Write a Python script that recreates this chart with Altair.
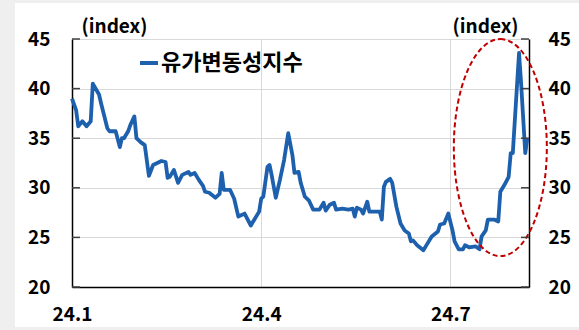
import altair as alt
import pandas as pd

# ---- data ----
dates = [
    "2024-01-01", "2024-01-03", "2024-01-04", "2024-01-06", "2024-01-08", "2024-01-10",
    "2024-01-11", "2024-01-14", "2024-01-15", "2024-01-18", "2024-01-19", "2024-01-22",
    "2024-01-24", "2024-01-25", "2024-01-26", "2024-01-28", "2024-01-29", "2024-01-31",
    "2024-02-01", "2024-02-03", "2024-02-05", "2024-02-07", "2024-02-09", "2024-02-11",
    "2024-02-13", "2024-02-15", "2024-02-16", "2024-02-17", "2024-02-19", "2024-02-21",
    "2024-02-23", "2024-02-26", "2024-02-27", "2024-02-29", "2024-03-02", "2024-03-04",
    "2024-03-05", "2024-03-07", "2024-03-10", "2024-03-12", "2024-03-13", "2024-03-14",
    "2024-03-17", "2024-03-19", "2024-03-21", "2024-03-24", "2024-03-27", "2024-03-29",
    "2024-03-31", "2024-04-01", "2024-04-02", "2024-04-04", "2024-04-05", "2024-04-06",
    "2024-04-08", "2024-04-10", "2024-04-12", "2024-04-14", "2024-04-16", "2024-04-17",
    "2024-04-19", "2024-04-20", "2024-04-22", "2024-04-24", "2024-04-26", "2024-04-29",
    "2024-05-01", "2024-05-02", "2024-05-04", "2024-05-06", "2024-05-07", "2024-05-10",
    "2024-05-13", "2024-05-15", "2024-05-16", "2024-05-17", "2024-05-19", "2024-05-20",
    "2024-05-22", "2024-05-23", "2024-05-28", "2024-05-29", "2024-05-30", "2024-05-31",
    "2024-06-02", "2024-06-03", "2024-06-05", "2024-06-07", "2024-06-09", "2024-06-11",
    "2024-06-12", "2024-06-13", "2024-06-15", "2024-06-18", "2024-06-20", "2024-06-22",
    "2024-06-25", "2024-06-26", "2024-06-28", "2024-06-30", "2024-07-02", "2024-07-03",
    "2024-07-05", "2024-07-07", "2024-07-08", "2024-07-10", "2024-07-13", "2024-07-15",
    "2024-07-16", "2024-07-18", "2024-07-19", "2024-07-22", "2024-07-24", "2024-07-25",
    "2024-07-27", "2024-07-29", "2024-07-30", "2024-07-31", "2024-08-03", "2024-08-04",
    "2024-08-06", "2024-08-07",
]
values = [
    39.0, 37.8, 36.2, 36.7, 36.2, 36.7,
    40.5, 39.4, 38.5, 36.0, 35.7, 35.7,
    34.1, 35.0, 35.0, 35.7, 36.3, 37.2,
    35.0, 34.6, 34.3, 31.2, 32.3, 32.5,
    32.7, 32.6, 31.0, 31.1, 31.8, 30.5,
    31.3, 31.6, 31.3, 31.5, 30.8, 30.2,
    29.6, 29.5, 29.0, 29.4, 31.5, 29.8,
    29.8, 28.9, 27.1, 27.4, 26.2, 26.9,
    27.6, 28.9, 29.1, 32.1, 32.3, 31.3,
    29.0, 30.8, 32.8, 35.5, 33.3, 31.5,
    31.6, 30.5, 29.1, 28.7, 27.8, 27.8,
    28.5, 27.7, 28.3, 28.5, 27.8, 27.9,
    27.8, 27.9, 27.1, 28.0, 27.8, 27.4,
    28.6, 27.6, 27.6, 26.8, 30.1, 30.6,
    30.9, 30.5, 28.1, 26.4, 25.7, 25.4,
    24.6, 24.7, 24.2, 23.7, 24.4, 25.1,
    25.6, 26.3, 26.4, 27.4, 25.7, 24.6,
    23.8, 23.8, 24.2, 24.0, 24.1, 23.8,
    25.1, 25.7, 26.8, 26.8, 26.6, 29.6,
    30.3, 31.1, 33.5, 33.5, 43.6, 40.5,
    33.5, 35.0,
]
series_name = "유가변동성지수"
axis_title = "(index)"
y_ticks = [20, 25, 30, 35, 40, 45]
x_tick_dates = [(2024, 1, 1), (2024, 4, 1), (2024, 7, 1)]
highlight_date = ["2024-07-25"]
highlight_value = [34.05]

df = pd.DataFrame({"date": dates, "value": values, "series": series_name})
hl = pd.DataFrame({"date": highlight_date, "value": highlight_value})
ticks_df = pd.DataFrame({"tick": y_ticks})
one = pd.DataFrame({"k": [0]})

FONT = "Noto Sans CJK KR"
BLUE = "#1d60ad"
GRID = "#d9d9d9"
W, H = 457, 248

x_scale = alt.Scale(
    type="utc",
    domain=[
        alt.DateTime(year=2024, month=1, date=1, utc=True),
        alt.DateTime(year=2024, month=8, date=7, hours=19, utc=True),
    ],
)
y_scale = alt.Scale(domain=[20, 45], nice=False, zero=False)

x_axis = alt.Axis(
    values=[alt.DateTime(year=y, month=m, date=d, utc=True) for (y, m, d) in x_tick_dates],
    labelExpr="utcFormat(datum.value, '%y') + '.' + (utcmonth(datum.value) + 1)",
    title=None, grid=True, gridColor=GRID, gridWidth=1,
    ticks=False, domainColor="#000000", domainWidth=1.5,
    labelFont=FONT, labelFontSize=19, labelFontWeight="bold", labelColor="#000000",
    labelPadding=18, labelFlush=False, labelOverlap=False,
)

def y_axis(orient, title_x, align, pad, grid):
    return alt.Axis(
        orient=orient, values=y_ticks, title=axis_title, titleAngle=0,
        titleX=title_x, titleY=-13, titleAlign=align, titleBaseline="middle",
        titleFont=FONT, titleFontSize=19, titleFontWeight="bold", titleColor="#000000",
        grid=grid, gridColor=GRID, gridWidth=1, ticks=False,
        domainColor="#000000", domainWidth=1.5,
        labelFont=FONT, labelFontSize=19, labelFontWeight="bold", labelColor="#000000",
        labelPadding=pad,
    )

# decorative grey frame around white card
grey = "#efefef"
frame_left = alt.Chart(one).mark_rect(color=grey).encode(
    x=alt.value(-72), x2=alt.value(-57), y=alt.value(-39), y2=alt.value(291))
frame_top = alt.Chart(one).mark_rect(color=grey).encode(
    x=alt.value(-72), x2=alt.value(507), y=alt.value(-39), y2=alt.value(-36))
frame_bottom = alt.Chart(one).mark_rect(color=grey).encode(
    x=alt.value(-72), x2=alt.value(507), y=alt.value(288), y2=alt.value(291))

line = alt.Chart(df).mark_line(strokeWidth=3.8, strokeJoin="round").encode(
    x=alt.X("date:T", scale=x_scale, axis=x_axis),
    y=alt.Y("value:Q", scale=y_scale, axis=y_axis("left", 9, "left", 22, True)),
    color=alt.Color(
        "series:N", scale=alt.Scale(range=[BLUE]),
        legend=alt.Legend(
            orient="none", legendX=66, legendY=13, title=None,
            symbolType="stroke", symbolStrokeWidth=4, symbolSize=324,
            labelFont=FONT, labelFontSize=22, labelFontWeight="bold",
            labelColor="#000000", labelOffset=1, labelLimit=400, padding=0,
        ),
    ),
)

ellipse_path = "M0,-1 A0.4286,1 0 1,1 0,1 A0.4286,1 0 1,1 0,-1 Z"
ellipse = alt.Chart(hl).mark_point(
    shape=ellipse_path, size=47089, filled=False, stroke="#c00000",
    strokeWidth=2, strokeDash=[5, 3], opacity=1,
).encode(
    x=alt.X("date:T", scale=x_scale),
    y=alt.Y("value:Q", scale=y_scale, axis=y_axis("right", -11, "right", 19, False)),
)

left_ticks = alt.Chart(ticks_df).mark_rule(color="#404040", strokeWidth=1.5).encode(
    y=alt.Y("tick:Q", scale=y_scale, axis=None), x=alt.value(0), x2=alt.value(8))
right_ticks = alt.Chart(ticks_df).mark_rule(color="#404040", strokeWidth=1.5).encode(
    y=alt.Y("tick:Q", scale=y_scale, axis=None), x=alt.value(W - 8), x2=alt.value(W))

chart = alt.layer(
    frame_left, frame_top, frame_bottom, line, ellipse, left_ticks, right_ticks
).resolve_scale(y="independent").properties(
    width=W, height=H,
    autosize=alt.AutoSizeParams(type="none"),
    padding={"left": 72, "top": 39, "right": 50, "bottom": 43},
    background="white",
).configure_view(stroke=None)

chart.save("out.html", embed_options={"renderer": "svg", "actions": False})
